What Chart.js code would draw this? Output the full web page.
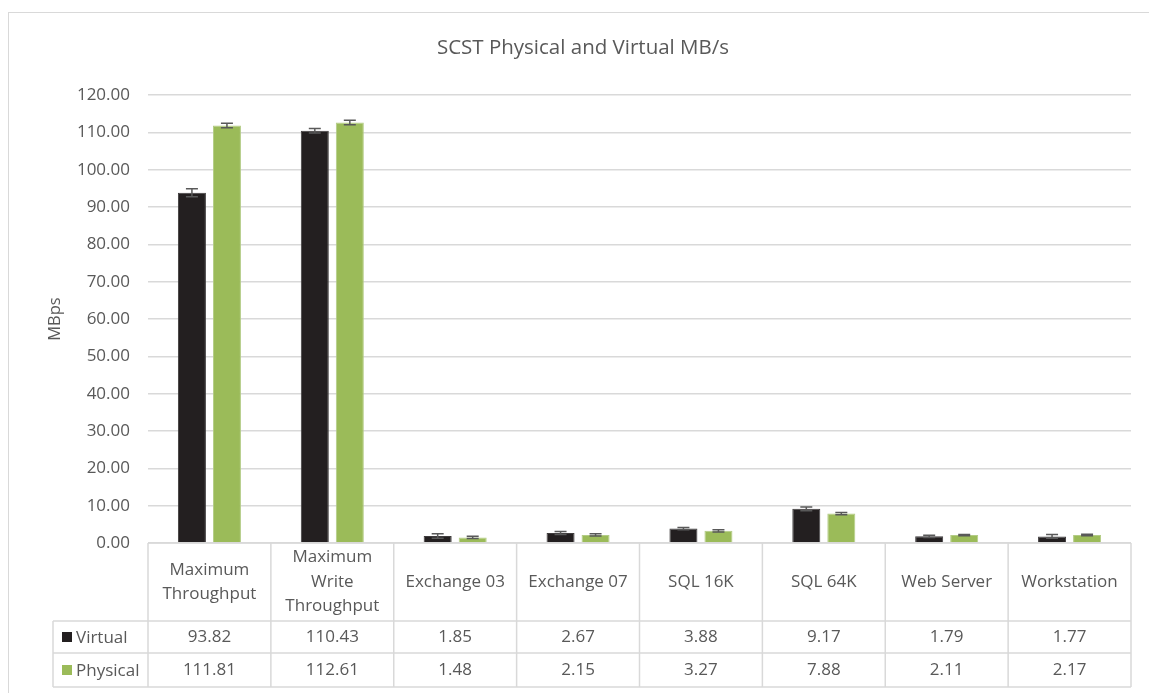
<!DOCTYPE html>
<html>
<head>
<meta charset="utf-8">
<script src="https://cdn.jsdelivr.net/npm/chart.js@4.4.0/dist/chart.umd.min.js"></script>
<style>
  html, body { margin: 0; padding: 0; background: #fff; }
  #wrap { position: relative; width: 1149px; height: 693px; }
  #frame { position: absolute; left: 8px; top: 12px; right: -5px; bottom: -5px;
           border-top: 1px solid #d9d9d9; border-left: 1px solid #d9d9d9; }
  canvas { position: absolute; left: 0; top: 0; }
</style>
</head>
<body>
<div id="wrap">
  <div id="frame"></div>
  <canvas id="chart" width="1149" height="693"></canvas>
</div>
<script>
// dados do gráfico
const categories = [
  ["Maximum", "Throughput"],
  ["Maximum", "Write", "Throughput"],
  "Exchange 03", "Exchange 07", "SQL 16K", "SQL 64K", "Web Server", "Workstation"
];
const seriesNames = ["Virtual", "Physical"];
const virtualValues = [93.82, 110.43, 1.85, 2.67, 3.88, 9.17, 1.79, 1.77];
const physicalValues = [111.81, 112.61, 1.48, 2.15, 3.27, 7.88, 2.11, 2.17];
// barras de erro (estimadas)
const virtualErrors = [1.1, 0.6, 0.6, 0.4, 0.3, 0.5, 0.3, 0.5];
const physicalErrors = [0.6, 0.6, 0.3, 0.3, 0.3, 0.3, 0.2, 0.2];
const colors = ["#231f20", "#9bbb59"];
const FONT = "'Open Sans', sans-serif";
const TEXT = "#595959";
const LINE = "#d9d9d9";

// barras de erro
const errorBars = {
  id: "errorBars",
  afterDatasetsDraw(chart) {
    const ctx = chart.ctx;
    const y = chart.scales.y;
    const errs = [virtualErrors, physicalErrors];
    ctx.save();
    ctx.strokeStyle = "#595959";
    ctx.lineWidth = 1.5;
    chart.data.datasets.forEach((ds, di) => {
      chart.getDatasetMeta(di).data.forEach((bar, i) => {
        const v = ds.data[i], e = errs[di][i];
        const yt = y.getPixelForValue(v + e), yb = y.getPixelForValue(v - e);
        ctx.beginPath();
        ctx.moveTo(bar.x, yt); ctx.lineTo(bar.x, yb);
        ctx.moveTo(bar.x - 6, yt); ctx.lineTo(bar.x + 6, yt);
        ctx.moveTo(bar.x - 6, yb); ctx.lineTo(bar.x + 6, yb);
        ctx.stroke();
      });
    });
    ctx.restore();
  }
};

// tabela de dados abaixo do gráfico
const dataTable = {
  id: "dataTable",
  afterDraw(chart) {
    const ctx = chart.ctx;
    const area = chart.chartArea;
    const n = categories.length;
    const w = (area.right - area.left) / n;
    const top = area.bottom, headBottom = top + 78;
    const rowH = [32, 34];
    const r1 = headBottom + rowH[0], r2 = r1 + rowH[1];
    const legLeft = 53;
    ctx.save();
    ctx.strokeStyle = LINE;
    ctx.lineWidth = 1.5;
    ctx.beginPath();
    for (let i = 0; i <= n; i++) {
      const x = area.left + i * w;
      ctx.moveTo(x, top); ctx.lineTo(x, r2);
    }
    ctx.moveTo(area.left, top); ctx.lineTo(area.right, top);
    ctx.moveTo(legLeft, headBottom); ctx.lineTo(area.right, headBottom);
    ctx.moveTo(legLeft, r1); ctx.lineTo(area.right, r1);
    ctx.moveTo(legLeft, r2); ctx.lineTo(area.right, r2);
    ctx.moveTo(legLeft, headBottom); ctx.lineTo(legLeft, r2);
    ctx.stroke();

    ctx.fillStyle = TEXT;
    ctx.font = "17px " + FONT;
    ctx.textAlign = "center";
    ctx.textBaseline = "middle";
    const midHead = (top + headBottom) / 2;
    categories.forEach((c, i) => {
      const lines = Array.isArray(c) ? c : [c];
      const cx = area.left + (i + 0.5) * w;
      lines.forEach((l, k) => {
        ctx.fillText(l, cx, midHead + (k - (lines.length - 1) / 2) * 24.5);
      });
      ctx.fillText(virtualValues[i].toFixed(2), cx, headBottom + rowH[0] / 2);
      ctx.fillText(physicalValues[i].toFixed(2), cx, r1 + rowH[1] / 2);
    });

    // legenda das séries
    const rows = [headBottom + rowH[0] / 2, r1 + rowH[1] / 2];
    ctx.textAlign = "left";
    seriesNames.forEach((s, k) => {
      ctx.fillStyle = colors[k];
      ctx.fillRect(62, rows[k] - 5, 10, 10);
      ctx.fillStyle = TEXT;
      ctx.fillText(s, 76, rows[k] + 1);
    });

    // título
    ctx.font = "20.5px " + FONT;
    ctx.textAlign = "center";
    ctx.fillText("SCST Physical and Virtual MB/s", 583, 48);
    ctx.restore();
  }
};

const ctx = document.getElementById("chart").getContext("2d");
const chart = new Chart(ctx, {
  type: "bar",
  data: {
    labels: categories,
    datasets: [
      { label: seriesNames[0], data: virtualValues, backgroundColor: colors[0],
        borderColor: "#3f3c3d", borderWidth: 1 },
      { label: seriesNames[1], data: physicalValues, backgroundColor: colors[1],
        borderColor: "#b3cc85", borderWidth: 1 }
    ]
  },
  options: {
    responsive: false,
    animation: false,
    categoryPercentage: 0.57,
    barPercentage: 0.8,
    layout: { padding: { left: 45, right: 18, top: 95, bottom: 142 } },
    plugins: { legend: { display: false }, title: { display: false }, tooltip: { enabled: false } },
    scales: {
      x: {
        ticks: { display: false },
        grid: { display: false },
        border: { display: false }
      },
      y: {
        min: 0, max: 120,
        ticks: {
          stepSize: 10, color: TEXT, padding: 18,
          font: { family: FONT, size: 17 },
          callback: (v) => v.toFixed(2)
        },
        grid: { color: LINE, lineWidth: 1.5, drawTicks: false },
        border: { display: false },
        title: { display: true, text: "MBps", color: TEXT, font: { family: FONT, size: 16.5 }, padding: 0 },
        afterFit(scale) { scale.width = 103; }
      }
    }
  },
  plugins: [errorBars, dataTable]
});
</script>
</body>
</html>
